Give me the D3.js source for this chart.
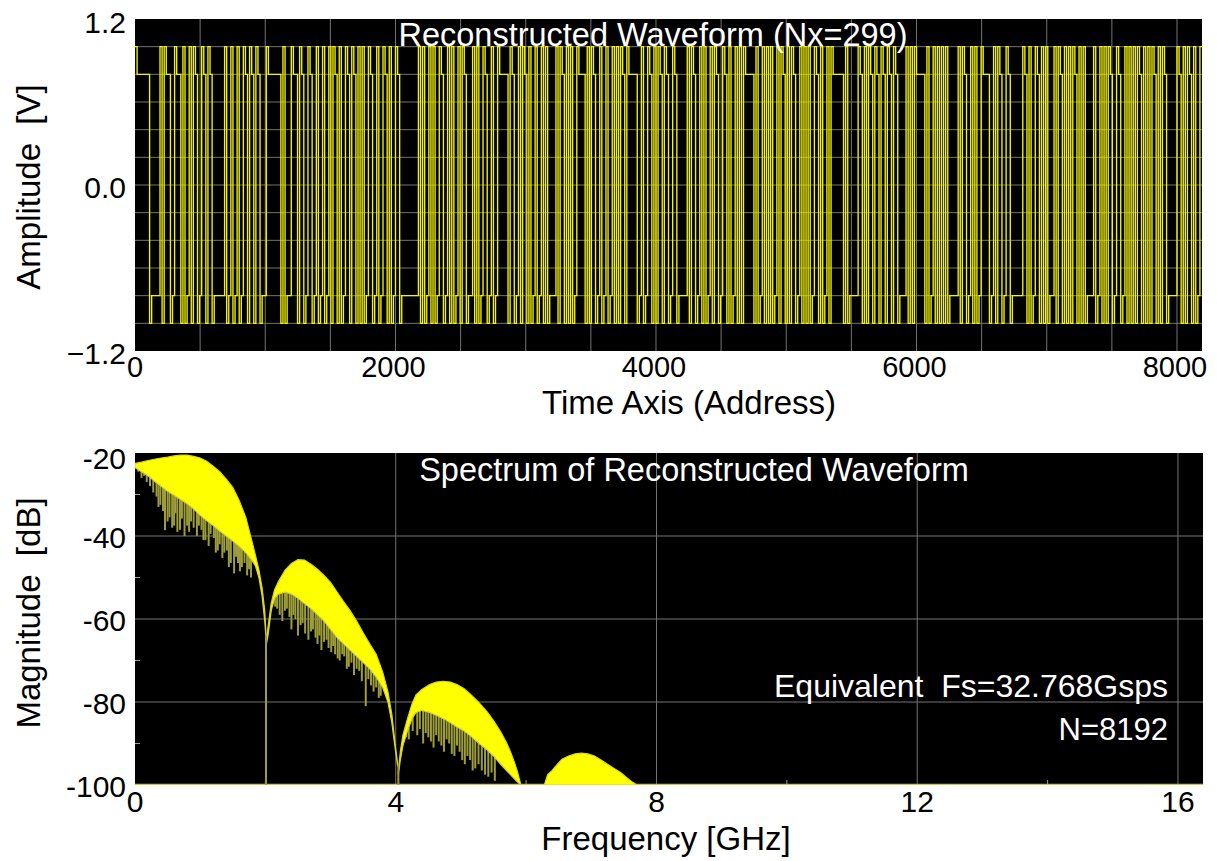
<!DOCTYPE html>
<html><head><meta charset="utf-8">
<script src="https://cdn.jsdelivr.net/npm/d3@7"></script>
<style>
body{margin:0;background:#fff}
text{font-family:"Liberation Sans",Arial,Helvetica,sans-serif;white-space:pre}
</style>
</head><body>
<svg id="c" width="1217" height="861"></svg>
<script>
// ---------------- DATA ----------------
// Top: reconstructed NRZ waveform, read as run lengths (bits), starting high
const samplesPerBit = 16;
const totalSamples = 8192;
const levelEdge = 1.0;   // first bit after a transition [V]
const levelHold = 0.8;   // following bits of the same run [V]
const bitRuns = [
7,5,1,1,3,2,3,1,1,2,1,1,2,2,2,
1,2,6,1,2,1,2,1,2,2,1,2,1,2,3,
7,1,1,3,3,1,2,2,2,2,1,2,1,2,1,
1,2,1,1,2,2,1,2,1,1,1,1,2,2,2,1,2,2,1,1,2,2,9,
1,1,1,2,1,1,1,2,2,
2,1,1,1,2,1,1,2,3,1,1,1,2,2,2,
1,2,5,1,2,2,1,1,2,1,1,2,1,2,1,
1,1,4,1,1,2,1,1,1,1,2,4,1,1,1,
2,2,1,2,1,2,1,1,1,1,2,1,5,2,1,
2,2,1,1,1,2,1,2,2,2,5,1,1,2,2,
1,1,1,2,1,1,2,2,2,1,1,2,1,1,1,
1,5,1,1,2,1,1,1,1,1,2,1,1,2,1,
1,1,2,2,1,1,1,1,1,2,2,1,1,2,1,
1,6,1,1,5,2,1,1,1,2,1,2,1,2,1,
2,1,2,4,1,1,1,1,5,1,1,2,1,1,1,
1,1,1,1,5,1,1,2,2,1,1,1,2,4,2,
1,1,2,2,2,6,2,1,1,2,2,1,1,1,1,
3,1,1,2,1,1,1,1,1,2,1,1,1,1,4,
1,2,1,1,1,1,2,2,2,2,1,1,1,1,1,
1,2,1,1,1,1,1,2,1,1,1,2,5,2,1,
1,1,2,1,1,2,1
];
const timeTickLabels = [0, 2000, 4000, 6000, 8000];
const ampTickLabels = [1.2, 0.0, -1.2];

// Bottom: spectrum lobes (GHz, dB)
const freqMax = 16.384;
const freqTickLabels = [0, 4, 8, 12, 16];
const magTickLabels = [-20, -40, -60, -80, -100];

const lobe1Freq  = [0.00,0.10,0.20,0.30,0.40,0.50,0.60,0.70,0.80,0.90,1.00,1.10,1.20,1.30,1.40,1.50,1.60,1.70,1.80,1.85,1.90,1.95,1.99,2.01];
const lobe1Upper = [-22.5,-22.2,-21.8,-21.5,-21.2,-21.0,-20.7,-20.5,-20.5,-20.8,-21.2,-22.0,-23.2,-24.5,-26.3,-28.3,-31.5,-35.5,-41.6,-44.8,-48.1,-52.5,-58.0,-64.0];
const lobe1Lower = [-23.5,-24.5,-25.5,-26.8,-28.0,-29.2,-30.2,-31.2,-32.2,-33.5,-35.0,-36.3,-37.5,-38.8,-40.0,-41.2,-42.5,-44.0,-46.0,-47.3,-50.0,-54.5,-60.5,-64.5];
const lobe1Spikes = [[0.05,-24.5],[0.10,-26.0],[0.14,-25.5],[0.18,-27.0],[0.23,-28.0],[0.28,-29.5],[0.33,-30.5],[0.36,-33.0],[0.39,-32.5],[0.43,-34.0],[0.46,-38.6],[0.50,-36.5],[0.53,-35.5],[0.57,-38.0],[0.60,-37.5],[0.62,-34.5],[0.65,-39.0],[0.69,-38.5],[0.72,-35.8],[0.76,-40.0],[0.80,-37.5],[0.83,-39.0],[0.86,-36.5],[0.90,-38.0],[0.95,-40.0],[0.98,-37.5],[1.02,-38.5],[1.05,-41.0],[1.08,-41.0],[1.13,-42.4],[1.16,-39.5],[1.21,-40.5],[1.24,-44.0],[1.27,-43.5],[1.30,-42.0],[1.34,-45.3],[1.37,-44.0],[1.41,-43.5],[1.44,-47.5],[1.47,-46.5],[1.52,-49.0],[1.55,-45.0],[1.58,-46.5],[1.61,-48.5],[1.64,-47.5],[1.68,-46.5],[1.72,-49.5],[1.75,-48.0],[1.78,-50.0]];

const lobe2Freq  = [2.01,2.04,2.09,2.14,2.20,2.30,2.40,2.50,2.60,2.70,2.80,2.90,3.00,3.10,3.20,3.30,3.40,3.50,3.60,3.70,3.80,3.88,3.94,3.99,4.03];
const lobe2Upper = [-66.0,-62.0,-56.2,-53.0,-51.0,-48.3,-46.6,-45.7,-45.8,-46.8,-48.0,-49.5,-51.2,-53.5,-55.8,-58.0,-60.5,-63.3,-66.0,-68.5,-72.8,-77.5,-83.0,-90.0,-95.0];
const lobe2Lower = [-66.5,-64.0,-58.0,-55.0,-54.0,-53.5,-54.0,-55.0,-56.3,-57.5,-59.0,-60.5,-62.5,-64.5,-66.0,-67.5,-69.0,-70.5,-72.0,-74.0,-76.5,-80.0,-85.0,-91.0,-95.5];
const lobe2Spikes = [[2.15,-57.0],[2.18,-57.5],[2.22,-59.0],[2.26,-60.5],[2.30,-58.0],[2.33,-57.5],[2.37,-59.5],[2.40,-62.5],[2.43,-59.0],[2.46,-60.0],[2.50,-64.0],[2.54,-61.5],[2.57,-61.0],[2.61,-63.5],[2.66,-65.0],[2.70,-63.0],[2.73,-62.5],[2.77,-64.5],[2.80,-66.0],[2.83,-64.0],[2.86,-67.5],[2.90,-65.5],[2.94,-65.0],[2.97,-67.0],[3.01,-68.0],[3.04,-66.5],[3.07,-68.5],[3.11,-69.5],[3.14,-70.0],[3.18,-68.5],[3.21,-69.0],[3.25,-72.0],[3.28,-71.5],[3.32,-70.5],[3.36,-73.5],[3.40,-72.0],[3.44,-72.5],[3.48,-75.0],[3.54,-81.0],[3.58,-74.5],[3.62,-76.0],[3.66,-77.5],[3.70,-76.5],[3.74,-79.0],[3.77,-78.5]];

const lobe3Freq  = [4.04,4.07,4.11,4.18,4.25,4.31,4.40,4.52,4.62,4.73,4.84,4.94,5.05,5.15,5.28,5.40,5.50,5.61,5.70,5.76,5.82,5.87,5.92];
const lobe3Upper = [-97.0,-92.0,-88.0,-84.0,-80.5,-78.3,-77.0,-75.8,-75.2,-75.0,-75.2,-75.8,-76.8,-78.2,-80.2,-82.3,-84.5,-87.2,-89.8,-92.0,-94.5,-96.9,-100.0];
const lobe3Lower = [-97.5,-94.0,-90.5,-87.0,-84.0,-82.5,-82.0,-82.5,-83.2,-84.0,-85.0,-86.0,-87.0,-88.2,-90.0,-91.5,-93.0,-95.0,-96.5,-97.5,-98.5,-99.3,-100.0];
const lobe3Spikes = [[4.16,-88.5],[4.20,-89.0],[4.26,-87.0],[4.33,-88.0],[4.37,-86.5],[4.42,-90.0],[4.46,-87.5],[4.50,-88.5],[4.54,-89.5],[4.58,-91.0],[4.62,-88.0],[4.66,-89.5],[4.70,-90.5],[4.74,-92.0],[4.78,-89.0],[4.82,-90.0],[4.86,-92.5],[4.90,-93.0],[4.94,-90.5],[4.98,-92.0],[5.02,-94.0],[5.06,-95.0],[5.10,-93.0],[5.14,-94.0],[5.18,-96.5],[5.22,-96.0],[5.27,-95.0],[5.32,-96.5],[5.37,-97.5],[5.42,-98.0],[5.47,-97.0],[5.52,-99.0]];

const lobe4Freq  = [6.28,6.33,6.40,6.48,6.55,6.65,6.75,6.85,6.95,7.05,7.15,7.25,7.35,7.45,7.55,7.63,7.70];
const lobe4Upper = [-100.0,-97.5,-96.5,-95.0,-93.8,-93.0,-92.5,-92.3,-92.5,-93.0,-94.0,-95.0,-96.0,-97.0,-98.3,-99.3,-100.0];
const lobe4Lower = [-100,-100,-100,-100,-100,-100,-100,-100,-100,-100,-100,-100,-100,-100,-100,-100,-100];
const lobe4Spikes = [];

const nullLines = [[2.01,-64.0],[4.04,-95.0]];

// ---------------- LAYOUT ----------------
const left = 135, right = 1202;
const top1 = 19, bot1 = 351, top2 = 453, bot2 = 785;
const gridColor = "#747474";
const yellow = "#ffff00", olive = "#9d9d3a";

const svg = d3.select("#c");
const defs = svg.append("defs");
defs.append("clipPath").attr("id","clip1").append("rect")
  .attr("x",left).attr("y",top1).attr("width",right-left).attr("height",bot1-top1);
defs.append("clipPath").attr("id","clip2").append("rect")
  .attr("x",left).attr("y",top2).attr("width",right-left+1).attr("height",bot2-top2);

const xT = d3.scaleLinear().domain([0,totalSamples]).range([left,right]);
const yA = d3.scaleLinear().domain([-1.2,1.2]).range([bot1,top1]);
const xF = d3.scaleLinear().domain([0,freqMax]).range([left,right+1]);
const yM = d3.scaleLinear().domain([-100,-20]).range([bot2,top2]);

// ---------- TOP PLOT ----------
const g1 = svg.append("g");
g1.append("rect").attr("x",left).attr("y",top1).attr("width",right-left).attr("height",bot1-top1).attr("fill","#000");
g1.selectAll("line.vg").data(d3.range(500,totalSamples,500)).join("line")
  .attr("x1",d=>xT(d)).attr("x2",d=>xT(d)).attr("y1",top1).attr("y2",bot1)
  .attr("stroke",gridColor).attr("stroke-width",1);
g1.selectAll("line.hg").data(d3.range(-5,6).map(k=>k*0.2)).join("line")
  .attr("x1",left).attr("x2",right).attr("y1",d=>yA(d)).attr("y2",d=>yA(d))
  .attr("stroke",gridColor).attr("stroke-width",1);

const wave = [];
{
  let bit = 0, sign = 1;
  bitRuns.forEach(n => {
    for (let k = 0; k < n; k++) {
      wave.push({s: bit*samplesPerBit, v: sign*(k===0 ? levelEdge : levelHold)});
      bit++;
    }
    sign = -sign;
  });
  wave.push({s: bit*samplesPerBit, v: wave[wave.length-1].v});
}
g1.append("path").attr("clip-path","url(#clip1)")
  .attr("d", d3.line().x(d=>xT(d.s)).y(d=>yA(d.v)).curve(d3.curveStepAfter)(wave))
  .attr("fill","none").attr("stroke","#f4f400").attr("stroke-width",1.35);

g1.append("text").attr("x",653).attr("y",46).attr("text-anchor","middle")
  .attr("fill","#fff").attr("font-size",32.5).text("Reconstructed Waveform (Nx=299)");

g1.selectAll("text.yt").data(ampTickLabels).join("text")
  .attr("x",126).attr("y",d=>Math.max(yA(d)+13, top1+14))
  .attr("text-anchor","end").attr("font-size",30).attr("fill","#000")
  .text(d=>d3.format(".1f")(d));
g1.selectAll("text.xt").data(timeTickLabels).join("text")
  .attr("x",d=>d === 0 ? xT(d) : xT(d)-2).attr("y",bot1+26)
  .attr("text-anchor","middle").attr("font-size",29).attr("fill","#000")
  .text(d=>d);
g1.append("text").attr("x",689).attr("y",414).attr("text-anchor","middle")
  .attr("font-size",33).text("Time Axis (Address)");
g1.append("text").attr("transform","translate(40,187) rotate(-90)")
  .attr("text-anchor","middle").attr("font-size",33).text("Amplitude  [V]");

// ---------- BOTTOM PLOT ----------
const g2 = svg.append("g");
g2.append("rect").attr("x",left).attr("y",top2).attr("width",right-left+1).attr("height",bot2-top2).attr("fill","#000");
g2.selectAll("line.vg").data([4,8,12,16]).join("line")
  .attr("x1",d=>xF(d)).attr("x2",d=>xF(d)).attr("y1",top2).attr("y2",bot2)
  .attr("stroke",gridColor).attr("stroke-width",1);
g2.selectAll("line.hg").data([-80,-60,-40]).join("line")
  .attr("x1",left).attr("x2",right+1).attr("y1",d=>yM(d)).attr("y2",d=>yM(d))
  .attr("stroke",gridColor).attr("stroke-width",1);
// minor ticks
g2.selectAll("line.mty").data([-30,-50,-70,-90]).join("line")
  .attr("x1",left).attr("x2",left+5).attr("y1",d=>yM(d)).attr("y2",d=>yM(d))
  .attr("stroke","#9a9a9a");
g2.selectAll("line.mtx").data([2,6,10,14]).join("line")
  .attr("x1",d=>xF(d)).attr("x2",d=>xF(d)).attr("y1",bot2).attr("y2",bot2-5)
  .attr("stroke","#9a9a9a");

const spec = g2.append("g").attr("clip-path","url(#clip2)");
spec.append("line").attr("x1",left).attr("x2",right+1).attr("y1",bot2-0.5).attr("y2",bot2-0.5)
  .attr("stroke","#c8c84a").attr("stroke-width",1.5);

const lobes = [
  {f:lobe1Freq, hi:lobe1Upper, lo:lobe1Lower, sp:lobe1Spikes},
  {f:lobe2Freq, hi:lobe2Upper, lo:lobe2Lower, sp:lobe2Spikes},
  {f:lobe3Freq, hi:lobe3Upper, lo:lobe3Lower, sp:lobe3Spikes},
  {f:lobe4Freq, hi:lobe4Upper, lo:lobe4Lower, sp:lobe4Spikes}
];
const area = d3.area().x(d=>xF(d.f)).y0(d=>yM(d.lo)).y1(d=>yM(d.hi));
lobes.forEach(L => {
  const pts = L.f.map((f,i)=>({f, hi:L.hi[i], lo:L.lo[i]}));
  const loScale = d3.scaleLinear().domain(L.f).range(L.lo);
  spec.selectAll(null).data(L.sp).join("line")
    .attr("x1",d=>xF(d[0])).attr("x2",d=>xF(d[0]))
    .attr("y1",d=>yM(loScale(d[0]))).attr("y2",d=>yM(d[1]))
    .attr("stroke",olive).attr("stroke-width",2);
  spec.append("path").attr("d",area(pts)).attr("fill",yellow)
    .attr("stroke","#d6d62a").attr("stroke-width",1.2);
});
spec.selectAll("line.null").data(nullLines).join("line")
  .attr("x1",d=>xF(d[0])).attr("x2",d=>xF(d[0]))
  .attr("y1",d=>yM(d[1])).attr("y2",bot2)
  .attr("stroke",olive).attr("stroke-width",2);

g2.append("text").attr("x",694).attr("y",481).attr("text-anchor","middle")
  .attr("fill","#fff").attr("font-size",32.5).text("Spectrum of Reconstructed Waveform");
g2.append("text").attr("x",1168).attr("y",697).attr("text-anchor","end")
  .attr("fill","#fff").attr("font-size",32).text("Equivalent  Fs=32.768Gsps");
g2.append("text").attr("x",1168).attr("y",740).attr("text-anchor","end")
  .attr("fill","#fff").attr("font-size",31).text("N=8192");

g2.selectAll("text.yt").data(magTickLabels).join("text")
  .attr("x",126).attr("y",d=>Math.max(yM(d)+12, top2+16))
  .attr("text-anchor","end").attr("font-size",30).text(d=>d);
g2.selectAll("text.xt").data(freqTickLabels).join("text")
  .attr("x",d=>xF(d)).attr("y",bot2+27)
  .attr("text-anchor","middle").attr("font-size",30).text(d=>d);
g2.append("text").attr("x",666).attr("y",850).attr("text-anchor","middle")
  .attr("font-size",33).text("Frequency [GHz]");
g2.append("text").attr("transform","translate(40,613) rotate(-90)")
  .attr("text-anchor","middle").attr("font-size",33).text("Magnitude  [dB]");
</script>
</body></html>
